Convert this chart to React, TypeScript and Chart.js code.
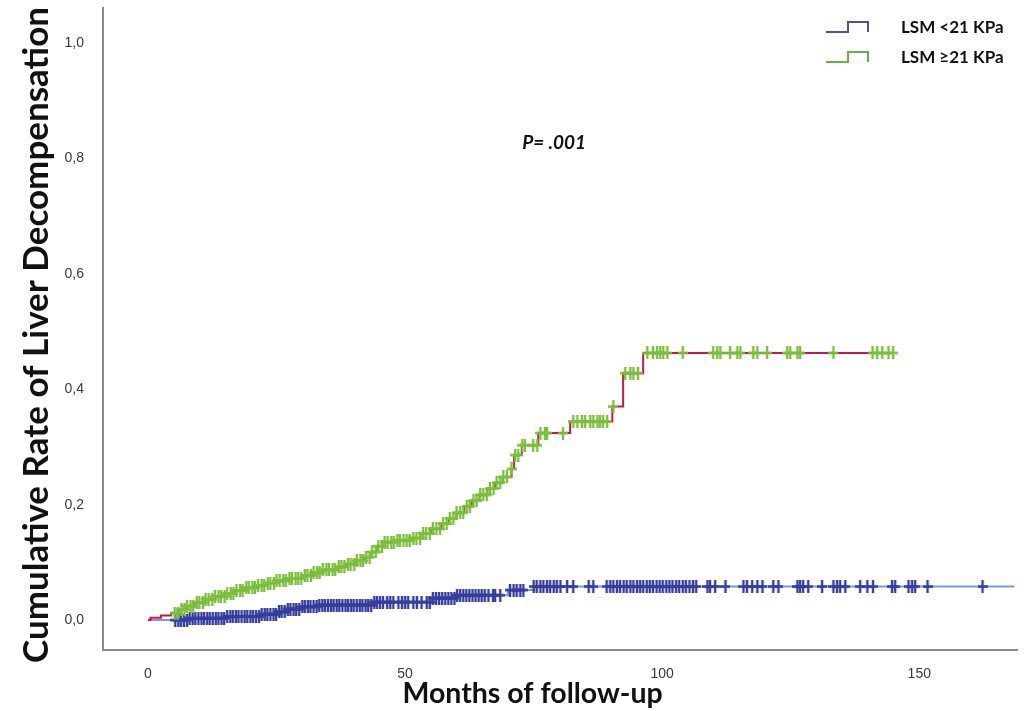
import React, { useEffect, useRef } from 'react';
import { Chart, registerables } from 'chart.js';

Chart.register(...registerables);

// ---------- data ----------
const seriesNames = ['LSM <21 KPa', 'LSM \u226521 KPa'];
const xTitle = 'Months of follow-up';
const yTitle = 'Cumulative Rate of Liver Decompensation';
const pValueText = 'P= .001';
const xTickValues = [0, 50, 100, 150];
const yTickValues = [0, 0.2, 0.4, 0.6, 0.8, 1.0];

// LSM <21 KPa : event times (months) and cumulative rate after each event
const lowEventMonths = [0, 8, 15, 22, 25, 27, 30, 33, 44, 55, 60, 70, 75, 168.5];
const lowEventRates = [0, 0.003, 0.006, 0.010, 0.014, 0.019, 0.023, 0.026, 0.031, 0.038, 0.043, 0.052, 0.058, 0.058];

// LSM <21 KPa : censored times (months)
const lowCensorMonths = [
  5.3, 5.9, 6.4, 7.0, 7.6, 8.1, 8.7, 9.2, 9.8, 10.4, 10.9, 11.5, 12.0, 12.6, 13.2, 13.7, 14.3, 14.8,
  15.4, 16.0, 16.5, 17.1, 17.6, 18.2, 18.8, 19.3, 19.9, 20.4, 21.0, 21.6, 22.1, 22.7, 23.2, 23.8,
  24.4, 24.9, 25.5, 26.0, 26.6, 27.2, 27.7, 28.3, 28.8, 29.4, 30.0, 30.5, 31.1, 31.6, 32.2, 32.8,
  33.3, 33.9, 34.4, 35.0, 35.6, 36.1, 36.7, 37.2, 37.8, 38.4, 38.9, 39.5, 40.0, 40.6, 41.2, 41.7,
  42.3, 42.8, 43.4, 44.0, 44.5, 45.1, 45.7, 46.5, 47.1, 47.7, 48.7, 49.4, 50.0, 50.6, 51.6, 52.3,
  53.2, 54.2, 54.8, 55.4, 56.0, 56.6, 57.2, 57.8, 58.4, 59.0, 59.6, 60.1, 60.7, 61.3, 61.9, 62.5,
  63.1, 63.7, 64.3, 64.9, 65.5, 66.2, 67.1, 67.5, 68.5, 70.4, 71.1, 71.7, 72.4, 73.0, 75.0, 75.6,
  76.3, 76.9, 77.6, 78.2, 78.9, 79.5, 80.2, 81.5, 82.7, 85.7, 86.6, 89.2, 89.9, 90.5, 91.2, 91.8,
  92.5, 93.1, 93.8, 94.4, 95.1, 95.7, 96.3, 97.0, 97.6, 98.2, 98.9, 99.5, 100.1, 100.8, 101.4,
  102.0, 102.7, 103.3, 104.0, 104.6, 105.3, 106.0, 106.6, 108.8, 109.3, 110.3, 112.3, 115.8, 116.5,
  117.5, 118.5, 119.5, 121.6, 122.6, 126.3, 126.8, 127.4, 128.4, 131.1, 133.3, 134.0, 134.6, 135.6,
  138.5, 139.9, 141.0, 144.7, 145.3, 147.9, 148.6, 149.2, 151.6, 162.3,
];

// LSM >=21 KPa : event times (months) and cumulative rate after each event
const highEventMonths = [
  0, 0.5, 2.5, 4.5, 6, 7.5, 9, 11, 13, 15, 17, 19, 21, 23, 25, 27.5, 30, 32, 34, 36.5, 38.5, 40.5,
  42, 43.5, 44.5, 46, 48, 51, 53, 55, 57, 58.5, 60, 61.5, 63, 64.5, 66, 67.5, 69, 70.7, 71.2, 72.7,
  75.9, 82.1, 90.3, 92.4, 96.3, 145,
];
const highEventRates = [
  0, 0.004, 0.008, 0.012, 0.018, 0.024, 0.030, 0.036, 0.041, 0.046, 0.051, 0.056, 0.060, 0.064,
  0.068, 0.072, 0.077, 0.082, 0.087, 0.092, 0.097, 0.103, 0.109, 0.118, 0.128, 0.135, 0.138, 0.142,
  0.150, 0.158, 0.167, 0.176, 0.186, 0.197, 0.207, 0.217, 0.228, 0.238, 0.248, 0.262, 0.286, 0.303,
  0.324, 0.344, 0.370, 0.428, 0.463, 0.463,
];

// LSM >=21 KPa : censored times (months)
const highCensorMonths = [
  5.2, 5.8, 6.5, 7.1, 7.6, 8.3, 8.8, 9.5, 10.0, 10.7, 11.2, 11.8, 12.5, 13.0, 13.7, 14.2, 14.9,
  15.4, 16.1, 16.6, 17.2, 17.9, 18.4, 19.1, 19.6, 20.3, 20.8, 21.4, 22.1, 22.6, 23.3, 23.8, 24.5,
  25.0, 25.6, 26.3, 26.8, 27.5, 28.0, 28.7, 29.2, 29.8, 30.5, 31.0, 31.7, 32.2, 32.9, 33.4, 34.0,
  34.7, 35.2, 35.9, 36.4, 37.1, 37.6, 38.2, 38.9, 39.4, 40.1, 40.6, 41.3, 41.8, 42.4, 43.1, 43.6,
  44.3, 44.8, 45.5, 46.0, 46.6, 47.3, 47.8, 48.5, 49.0, 49.7, 50.3, 50.9, 51.6, 52.2, 52.9, 53.5,
  54.1, 54.8, 55.4, 56.1, 56.8, 57.4, 58.1, 58.7, 59.4, 60.0, 60.7, 61.3, 62.0, 62.6, 63.3, 63.9,
  64.6, 65.2, 65.9, 66.5, 67.2, 67.8, 68.5, 69.1, 69.8, 70.7, 71.4, 72.0, 72.8, 73.3, 74.9, 75.7,
  76.3, 77.2, 77.6, 80.7, 82.7, 83.5, 84.4, 85.0, 86.0, 86.6, 87.4, 87.9, 88.5, 89.3, 90.5, 92.8,
  93.8, 94.4, 95.3, 97.1, 98.2, 99.0, 99.6, 100.2, 101.0, 104.0, 109.9, 110.7, 111.3, 113.2, 114.6,
  115.2, 117.7, 118.5, 120.4, 124.3, 124.9, 126.3, 126.8, 133.3, 140.9, 141.8, 142.8, 144.0, 144.9,
];

const pValuePosition = { month: 79, rate: 0.828 };

// ---------- styles ----------
const lowLineColor = '#7898df';
const lowMarkColor = '#353d9d';
const highLineColor = '#c8174a';
const highMarkColor = '#7bbf3d';
const axisColor = '#8a8a8a';
const tickFont = { family: '"Liberation Sans", Arial, sans-serif', size: 14 };
const titleFamily = 'Lato, "Open Sans", sans-serif';

function rateAt(months: number[], rates: number[], t: number): number {
  let v = rates[0];
  for (let i = 0; i < months.length; i++) {
    if (months[i] <= t) v = rates[i];
    else break;
  }
  return v;
}

function makeCross(color: string, w: number, h: number, lw: number): HTMLCanvasElement {
  const c = document.createElement('canvas');
  c.width = w;
  c.height = h;
  const g = c.getContext('2d')!;
  g.strokeStyle = color;
  g.lineWidth = lw;
  g.beginPath();
  g.moveTo(w / 2, 0);
  g.lineTo(w / 2, h);
  g.moveTo(0, h / 2);
  g.lineTo(w, h / 2);
  g.stroke();
  return c;
}

const overlayPlugin = {
  id: 'overlay',
  afterDraw(chart: any) {
    const ctx = chart.ctx as CanvasRenderingContext2D;
    const a = chart.chartArea;
    ctx.save();
    ctx.fillStyle = '#111';
    ctx.textAlign = 'center';
    ctx.textBaseline = 'middle';

    // y title
    ctx.save();
    ctx.font = `bold 35px ${titleFamily}`;
    ctx.translate(37, 335);
    ctx.rotate(-Math.PI / 2);
    ctx.fillText(yTitle, 0, 0);
    ctx.restore();

    // x title
    ctx.font = `bold 28.5px ${titleFamily}`;
    ctx.fillText(xTitle, a.left + (a.right - a.left) * 0.47, 694);

    // p value
    const xs = chart.scales.x;
    const ys = chart.scales.y;
    ctx.font = `italic bold 19px ${titleFamily}`;
    ctx.fillText(pValueText, xs.getPixelForValue(pValuePosition.month), ys.getPixelForValue(pValuePosition.rate));

    // legend
    const colors = ['#4a52aa', '#5db548'];
    const rows = [27, 57];
    for (let i = 0; i < seriesNames.length; i++) {
      const yc = rows[i];
      ctx.strokeStyle = colors[i];
      ctx.lineWidth = 2;
      ctx.beginPath();
      ctx.moveTo(826, yc + 5);
      ctx.lineTo(848, yc + 5);
      ctx.lineTo(848, yc - 5);
      ctx.lineTo(868, yc - 5);
      ctx.lineTo(868, yc + 5);
      ctx.stroke();
      ctx.textAlign = 'left';
      ctx.font = `bold 17px ${titleFamily}`;
      ctx.fillStyle = '#111';
      ctx.fillText(seriesNames[i], 901, yc + 1);
    }
    ctx.restore();
  },
};

export default function App() {
  const ref = useRef<HTMLCanvasElement | null>(null);

  useEffect(() => {
    document.body.style.margin = '0';
    const canvas = ref.current;
    if (!canvas) return;

    const lowLine = lowEventMonths.map((m, i) => ({ x: m, y: lowEventRates[i] }));
    const highLine = highEventMonths.map((m, i) => ({ x: m, y: highEventRates[i] }));
    const lowMarks = lowCensorMonths.map((m) => ({ x: m, y: rateAt(lowEventMonths, lowEventRates, m) }));
    const highMarks = highCensorMonths.map((m) => ({ x: m, y: rateAt(highEventMonths, highEventRates, m) }));

    const lowCross = makeCross(lowMarkColor, 10, 13, 2.4);
    const highCross = makeCross(highMarkColor, 10, 13, 2.4);

    const chart = new Chart(canvas, {
      type: 'line',
      data: {
        datasets: [
          {
            label: seriesNames[1] + ' censored',
            data: highMarks,
            showLine: false,
            pointStyle: highCross as any,
            pointRadius: 6,
            order: 1,
          },
          {
            label: seriesNames[0] + ' censored',
            data: lowMarks,
            showLine: false,
            pointStyle: lowCross as any,
            pointRadius: 6,
            order: 2,
          },
          {
            label: seriesNames[1],
            data: highLine,
            stepped: 'before',
            borderColor: highLineColor,
            borderWidth: 2,
            pointRadius: 0,
            fill: false,
            order: 3,
          },
          {
            label: seriesNames[0],
            data: lowLine,
            stepped: 'before',
            borderColor: lowLineColor,
            borderWidth: 2,
            pointRadius: 0,
            fill: false,
            order: 4,
          },
        ],
      },
      options: {
        animation: false,
        responsive: false,
        layout: { padding: { left: 8, top: 8, right: 15, bottom: 0 } },
        plugins: {
          legend: { display: false },
          tooltip: { enabled: false },
        },
        scales: {
          x: {
            type: 'linear',
            min: -8.75,
            max: 169,
            grid: { display: false },
            border: { display: true, color: axisColor, width: 2 },
            ticks: {
              font: tickFont,
              color: '#3a3a3a',
              padding: 8,
              maxRotation: 0,
              callback: (v: any) => String(v),
            },
            afterBuildTicks: (s: any) => {
              s.ticks = xTickValues.map((v) => ({ value: v }));
            },
            afterFit: (s: any) => {
              s.height = 61;
              s.paddingLeft = 0;
              s.paddingRight = 0;
            },
          },
          y: {
            type: 'linear',
            min: -0.052,
            max: 1.061,
            grid: { display: false },
            border: { display: true, color: axisColor, width: 2 },
            ticks: {
              font: tickFont,
              color: '#3a3a3a',
              padding: 11,
              callback: (v: any) => Number(v).toFixed(1).replace('.', ','),
            },
            afterBuildTicks: (s: any) => {
              s.ticks = yTickValues.map((v) => ({ value: v }));
            },
            afterFit: (s: any) => {
              s.width = 95;
              s.paddingTop = 0;
              s.paddingBottom = 0;
            },
          },
        },
      },
      plugins: [overlayPlugin],
    });

    return () => chart.destroy();
  }, []);

  return (
    <div style={{ width: 1032, height: 711 }}>
      <canvas ref={ref} width={1032} height={711} />
    </div>
  );
}
